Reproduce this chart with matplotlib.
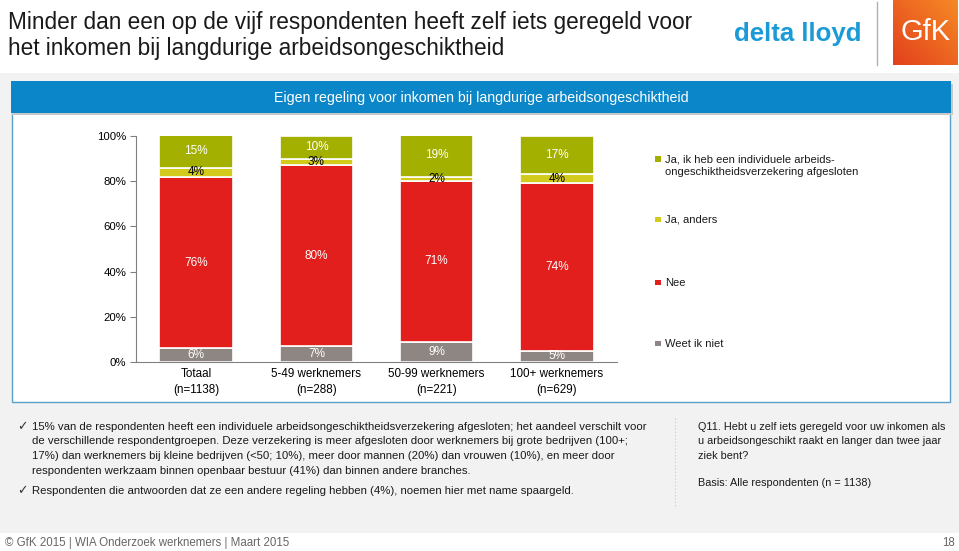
"""Eigen regeling voor inkomen bij langdurige arbeidsongeschiktheid - gestapelde staven."""
import matplotlib

matplotlib.use("Agg")
import matplotlib.pyplot as plt
import numpy as np
from matplotlib.patches import Rectangle

plt.rcParams["font.family"] = ["Liberation Sans", "DejaVu Sans"]

W, H = 959, 551

categories = ["Totaal\n(n=1138)", "5-49 werknemers\n(n=288)", "50-99 werknemers\n(n=221)", "100+ werknemers\n(n=629)"]
weet_niet = [6, 7, 9, 5]
nee = [76, 80, 71, 74]
ja_anders = [4, 3, 2, 4]
ja_individueel = [15, 10, 19, 17]

series_labels = [
    "Weet ik niet",
    "Nee",
    "Ja, anders",
    "Ja, ik heb een individuele arbeids-\nongeschiktheidsverzekering afgesloten",
]
series_colors = ["#8e8682", "#e21f1d", "#d3cb1c", "#a4b000"]
label_colors = ["white", "white", "black", "white"]

y_ticks = [0, 20, 40, 60, 80, 100]
y_ticklabels = ["0%", "20%", "40%", "60%", "80%", "100%"]

title_lines = [
    "Minder dan een op de vijf respondenten heeft zelf iets geregeld voor",
    "het inkomen bij langdurige arbeidsongeschiktheid",
]
panel_title = "Eigen regeling voor inkomen bij langdurige arbeidsongeschiktheid"
bullets = [
    [
        "15% van de respondenten heeft een individuele arbeidsongeschiktheidsverzekering afgesloten; het aandeel verschilt voor",
        "de verschillende respondentgroepen. Deze verzekering is meer afgesloten door werknemers bij grote bedrijven (100+;",
        "17%) dan werknemers bij kleine bedrijven (<50; 10%), meer door mannen (20%) dan vrouwen (10%), en meer door",
        "respondenten werkzaam binnen openbaar bestuur (41%) dan binnen andere branches.",
    ],
    ["Respondenten die antwoorden dat ze een andere regeling hebben (4%), noemen hier met name spaargeld."],
]
question_lines = [
    "Q11. Hebt u zelf iets geregeld voor uw inkomen als",
    "u arbeidsongeschikt raakt en langer dan twee jaar",
    "ziek bent?",
]
basis_text = "Basis: Alle respondenten (n = 1138)"
footer_text = "© GfK 2015 | WIA Onderzoek werknemers | Maart 2015"
page_number = "18"


def fx(x):
    return x / W


def fy(y):
    return 1 - y / H


def rect(fig, x0, y0, x1, y1, **kw):
    r = Rectangle((fx(x0), fy(y1)), fx(x1) - fx(x0), fy(y0) - fy(y1), transform=fig.transFigure, **kw)
    fig.patches.append(r)
    return r


fig = plt.figure(figsize=(W / 100, H / 100), dpi=100)
fig.patch.set_facecolor("white")

# achtergrond en paneel
rect(fig, 0, 73, W, 533, facecolor="#f2f2f2", edgecolor="none", zorder=0)
rect(fig, 12, 84, 950, 402, facecolor="white", edgecolor="#5b9fcb", lw=1.0, zorder=1)
rect(fig, 12, 84, 953, 115, facecolor="#c8c8c8", edgecolor="none", zorder=1.5)
rect(fig, 11, 81, 951, 113, facecolor="#0b87c9", edgecolor="none", zorder=2)
fig.text(fx(481), fy(98), panel_title, color="white", fontsize=10.2, ha="center", va="center", zorder=3)

# titel
for i, line in enumerate(title_lines):
    fig.text(fx(8), fy(22 + 26 * i), line, fontsize=16.3, color="#1a1a1a", ha="left", va="center")

# logo's
fig.text(fx(798), fy(34), "delta lloyd", fontsize=18.5, fontweight="bold", color="#1b9ad8",
         ha="center", va="center")
fig.add_artist(plt.Line2D([fx(877), fx(877)], [fy(2), fy(65)], transform=fig.transFigure,
                          color="#b0b0b0", lw=1))
lax = fig.add_axes([fx(893), fy(65), fx(958) - fx(893), fy(0) - fy(65)])
grad = np.linspace(0, 1, 64)
lax.imshow(np.add.outer(grad[::-1], grad) / 2, cmap=matplotlib.colors.LinearSegmentedColormap.from_list(
    "gfk", ["#e3401d", "#f68a25"]), aspect="auto", extent=[0, 1, 0, 1])
lax.text(0.5, 0.5, "GfK", color="white", fontsize=21, ha="center", va="center", transform=lax.transAxes)
lax.axis("off")

# grafiek
ax = fig.add_axes([fx(136), fy(362), fx(617) - fx(136), fy(136) - fy(362)], zorder=4)
ax.set_facecolor("none")
x = np.arange(len(categories))
bottom = np.zeros(len(categories))
for vals, col, tcol in zip([weet_niet, nee, ja_anders, ja_individueel], series_colors, label_colors):
    vals = np.array(vals, dtype=float)
    ax.bar(x, vals, 0.61, bottom=bottom, color=col, edgecolor="white", linewidth=1.2)
    for xi, b, v in zip(x, bottom, vals):
        yc = b + v / 2
        ax.text(xi, min(yc, 99), f"{int(v)}%", color=tcol, fontsize=8.5, ha="center", va="center")
    bottom += vals

ax.set_xlim(-0.5, 3.5)
ax.set_ylim(0, 100)
ax.set_yticks(y_ticks)
ax.set_yticklabels(y_ticklabels, fontsize=8.2)
ax.set_xticks(x)
ax.set_xticklabels(categories, fontsize=8.4, linespacing=1.45)
ax.tick_params(axis="x", length=0, pad=4)
ax.tick_params(axis="y", length=4, color="#808080", pad=3)
for s in ["top", "right"]:
    ax.spines[s].set_visible(False)
for s in ["left", "bottom"]:
    ax.spines[s].set_color("#808080")

# legenda
legend_y = [(166, 3), (220, 2), (283, 1), (344, 0)]
for ly, idx in legend_y:
    lines = series_labels[idx].split("\n")
    rect(fig, 655, ly - 3 - 6.5 * (len(lines) - 1), 661, ly + 2 - 6.5 * (len(lines) - 1),
         facecolor=series_colors[idx], edgecolor="none", zorder=3)
    fig.text(fx(665), fy(ly), series_labels[idx], fontsize=8, color="#1a1a1a", ha="left", va="center",
             linespacing=1.35)

# toelichting
yy = 427
for block in bullets:
    fig.text(fx(17), fy(yy), "✓", fontsize=9, family="DejaVu Sans", ha="left", va="center", color="#333333")
    for line in block:
        fig.text(fx(32), fy(yy), line, fontsize=8.2, ha="left", va="center", color="#1a1a1a")
        yy += 14.5
    yy += 6

fig.add_artist(plt.Line2D([fx(675), fx(675)], [fy(418), fy(508)], transform=fig.transFigure,
                          color="#c8c8c8", lw=0.8, ls=(0, (1, 2))))
for i, line in enumerate(question_lines):
    fig.text(fx(698), fy(427 + 14.5 * i), line, fontsize=7.8, ha="left", va="center", color="#1a1a1a")
fig.text(fx(698), fy(483), basis_text, fontsize=7.8, ha="left", va="center", color="#1a1a1a")

fig.text(fx(5), fy(543), footer_text, fontsize=8.3, ha="left", va="center", color="#666666")
fig.text(fx(955), fy(543), page_number, fontsize=8.3, ha="right", va="center", color="#666666")

fig.savefig("out.png", dpi=100)
